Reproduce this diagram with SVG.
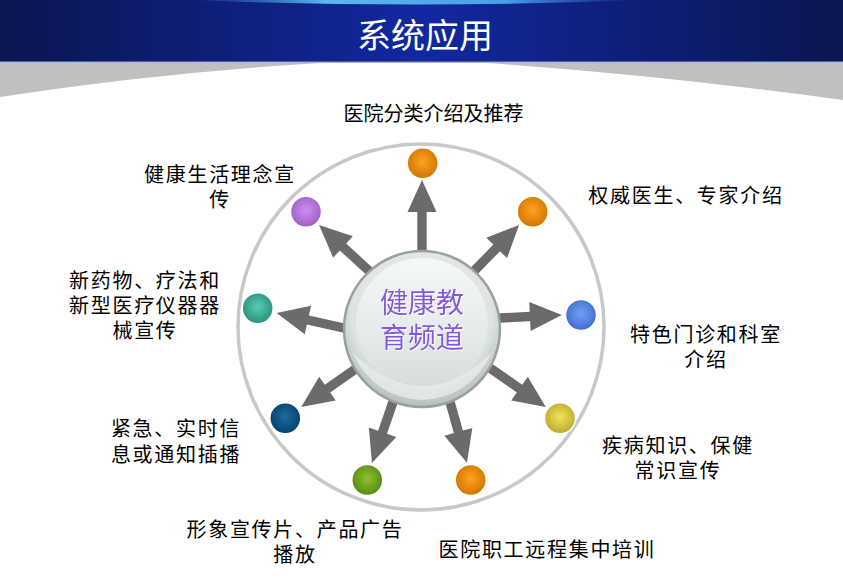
<svg xmlns="http://www.w3.org/2000/svg" width="843" height="588" viewBox="0 0 843 588">
<defs>
<linearGradient id="hdr" x1="0" y1="0" x2="1" y2="0">
<stop offset="0" stop-color="#0b1550"/>
<stop offset="0.5" stop-color="#1128a0"/>
<stop offset="1" stop-color="#0b1550"/>
</linearGradient>
<linearGradient id="swoosh" x1="0" y1="0" x2="1" y2="0">
<stop offset="0" stop-color="#3a8ad8" stop-opacity="0"/>
<stop offset="0.3" stop-color="#5ab8f0"/>
<stop offset="0.7" stop-color="#4aa0e8"/>
<stop offset="1" stop-color="#2a70d0" stop-opacity="0"/>
</linearGradient>
<radialGradient id="glass" cx="0.5" cy="0.4" r="0.6">
<stop offset="0" stop-color="#f2f5f5"/>
<stop offset="0.75" stop-color="#dde3e3"/>
<stop offset="1" stop-color="#b4bcbc"/>
</radialGradient>
<linearGradient id="glassIn" x1="0" y1="0" x2="0" y2="1">
<stop offset="0" stop-color="#f6f8f8"/>
<stop offset="0.6" stop-color="#e4e9e9"/>
<stop offset="1" stop-color="#d6dcdc"/>
</linearGradient>
<radialGradient id="gOrange" cx="0.5" cy="0.45" r="0.55"><stop offset="0" stop-color="#ffa020"/><stop offset="1" stop-color="#d07600"/></radialGradient>
<radialGradient id="gBlue" cx="0.5" cy="0.45" r="0.55"><stop offset="0" stop-color="#72a0f4"/><stop offset="1" stop-color="#3f6dd0"/></radialGradient>
<radialGradient id="gYellow" cx="0.5" cy="0.45" r="0.55"><stop offset="0" stop-color="#f0e458"/><stop offset="1" stop-color="#bca82c"/></radialGradient>
<radialGradient id="gGreen" cx="0.5" cy="0.45" r="0.55"><stop offset="0" stop-color="#90c030"/><stop offset="1" stop-color="#558a12"/></radialGradient>
<radialGradient id="gNavy" cx="0.5" cy="0.45" r="0.55"><stop offset="0" stop-color="#1c6c9e"/><stop offset="1" stop-color="#053f6c"/></radialGradient>
<radialGradient id="gTeal" cx="0.5" cy="0.45" r="0.55"><stop offset="0" stop-color="#56ccb4"/><stop offset="1" stop-color="#2a8e7c"/></radialGradient>
<radialGradient id="gPurple" cx="0.5" cy="0.45" r="0.55"><stop offset="0" stop-color="#d08cf0"/><stop offset="1" stop-color="#9a60c2"/></radialGradient>
<filter id="wshadow" x="-10%" y="-10%" width="120%" height="120%">
<feDropShadow dx="1" dy="1" stdDeviation="0" flood-color="#ffffff"/>
</filter>
</defs>
<style>
.lbl{font-family:"Noto Sans CJK SC","Liberation Sans",sans-serif;font-size:20px;fill:#000;text-anchor:middle;letter-spacing:1.7px}
.ball{stroke:#ffffff;stroke-width:1.5}
.arrow{fill:#6b6b6b}
.center{font-family:"Noto Sans CJK SC","Liberation Sans",sans-serif;font-size:28px;text-anchor:middle;fill:#8358e0}
</style>
<rect width="843" height="588" fill="#ffffff"/>
<g id="header">
<rect x="0" y="0" width="843" height="62" fill="url(#hdr)"/>
<path d="M190,0 L640,0 Q420,9 190,0 Z" fill="url(#swoosh)"/>
<rect x="0" y="61" width="843" height="1.5" fill="#5060a8"/>
<path d="M0,62.5 L330,62.5 Q160,72 0,97 Z" fill="#c0c0c0"/>
<path d="M480,62.5 L843,62.5 L843,100 Q660,75 480,62.5 Z" fill="#c0c0c0"/>
<text x="425" y="48" font-family="'Noto Sans CJK SC','Liberation Serif',sans-serif" font-size="34" fill="#ffffff" text-anchor="middle">系统应用</text>
</g>
<g id="ring">
<circle cx="421" cy="327" r="183" fill="none" stroke="#c8c8c8" stroke-width="3.5"/>
</g>
<g id="connectors">
<g transform="translate(422,275) rotate(-90)"><polygon class="arrow" points="0,-4.7 63,-4.7 63,-14.5 95,0 63,14.5 63,4.7 0,4.7"/></g>
<g transform="translate(457.5,287.9) rotate(-45.6)"><polygon class="arrow" points="0,-4.7 56,-4.7 56,-14.5 88,0 56,14.5 56,4.7 0,4.7"/></g>
<g transform="translate(475,319.2) rotate(-2.8)"><polygon class="arrow" points="0,-4.7 55,-4.7 55,-14.5 87,0 55,14.5 55,4.7 0,4.7"/></g>
<g transform="translate(469.5,353.7) rotate(34.9)"><polygon class="arrow" points="0,-4.7 61,-4.7 61,-14.5 93,0 61,14.5 61,4.7 0,4.7"/></g>
<g transform="translate(443.3,377.9) rotate(74.4)"><polygon class="arrow" points="0,-4.7 56,-4.7 56,-14.5 88,0 56,14.5 56,4.7 0,4.7"/></g>
<g transform="translate(401.1,378.4) rotate(109)"><polygon class="arrow" points="0,-4.7 57,-4.7 57,-14.5 89.5,0 57,14.5 57,4.7 0,4.7"/></g>
<g transform="translate(377.5,353.7) rotate(145.1)"><polygon class="arrow" points="0,-4.7 61,-4.7 61,-14.5 93,0 61,14.5 61,4.7 0,4.7"/></g>
<g transform="translate(368.4,333.5) rotate(192.6)"><polygon class="arrow" points="0,-4.7 62,-4.7 62,-14.5 94,0 62,14.5 62,4.7 0,4.7"/></g>
<g transform="translate(386.4,286.9) rotate(-137.4)"><polygon class="arrow" points="0,-4.7 59,-4.7 59,-14.5 91.5,0 59,14.5 59,4.7 0,4.7"/></g>
</g>
<g id="hub">
<circle cx="422" cy="329" r="78" fill="url(#glass)" stroke="#98a0a0" stroke-width="2.5"/>
<circle cx="422" cy="324" r="66" fill="url(#glassIn)"/>
<path d="M352,352 Q422,420 492,352 Q470,398 422,400 Q374,398 352,352 Z" fill="#e6ebeb" opacity="0.8"/>
<text class="center" filter="url(#wshadow)"><tspan x="422" y="313">健康教</tspan><tspan x="422" y="348">育频道</tspan></text>
</g>
<g id="n-top">
<circle class="ball" cx="422.7" cy="163.3" r="15.5" fill="url(#gOrange)"/>
<text class="lbl" x="433.5" y="121" style="letter-spacing:0px" font-size="19">医院分类介绍及推荐</text>
</g>
<g id="n-topright">
<circle class="ball" cx="532.7" cy="211.7" r="15.5" fill="url(#gOrange)"/>
<text class="lbl" x="686" y="203">权威医生、专家介绍</text>
</g>
<g id="n-right">
<circle class="ball" cx="581" cy="315" r="15.5" fill="url(#gBlue)"/>
<text class="lbl"><tspan x="706" y="342">特色门诊和科室</tspan><tspan x="706" y="367">介绍</tspan></text>
</g>
<g id="n-bottomright">
<circle class="ball" cx="560" cy="418.3" r="15.5" fill="url(#gYellow)"/>
<text class="lbl"><tspan x="678" y="453">疾病知识、保健</tspan><tspan x="678" y="478">常识宣传</tspan></text>
</g>
<g id="n-bottom">
<circle class="ball" cx="470.7" cy="480" r="15.5" fill="url(#gOrange)"/>
<text class="lbl" x="547" y="557">医院职工远程集中培训</text>
</g>
<g id="n-bottomleft">
<circle class="ball" cx="367.3" cy="480" r="15.5" fill="url(#gGreen)"/>
<text class="lbl"><tspan x="295" y="537">形象宣传片、产品广告</tspan><tspan x="295" y="562">播放</tspan></text>
</g>
<g id="n-leftbottom">
<circle class="ball" cx="285.3" cy="418.3" r="15.5" fill="url(#gNavy)"/>
<text class="lbl"><tspan x="176" y="436">紧急、实时信</tspan><tspan x="176" y="462">息或通知插播</tspan></text>
</g>
<g id="n-left">
<circle class="ball" cx="257.7" cy="308.3" r="15.5" fill="url(#gTeal)"/>
<text class="lbl"><tspan x="145" y="288">新药物、疗法和</tspan><tspan x="145" y="313">新型医疗仪器器</tspan><tspan x="145" y="338">械宣传</tspan></text>
</g>
<g id="n-topleft">
<circle class="ball" cx="306" cy="211.7" r="15.5" fill="url(#gPurple)"/>
<text class="lbl"><tspan x="220" y="182">健康生活理念宣</tspan><tspan x="220" y="207">传</tspan></text>
</g>
</svg>
